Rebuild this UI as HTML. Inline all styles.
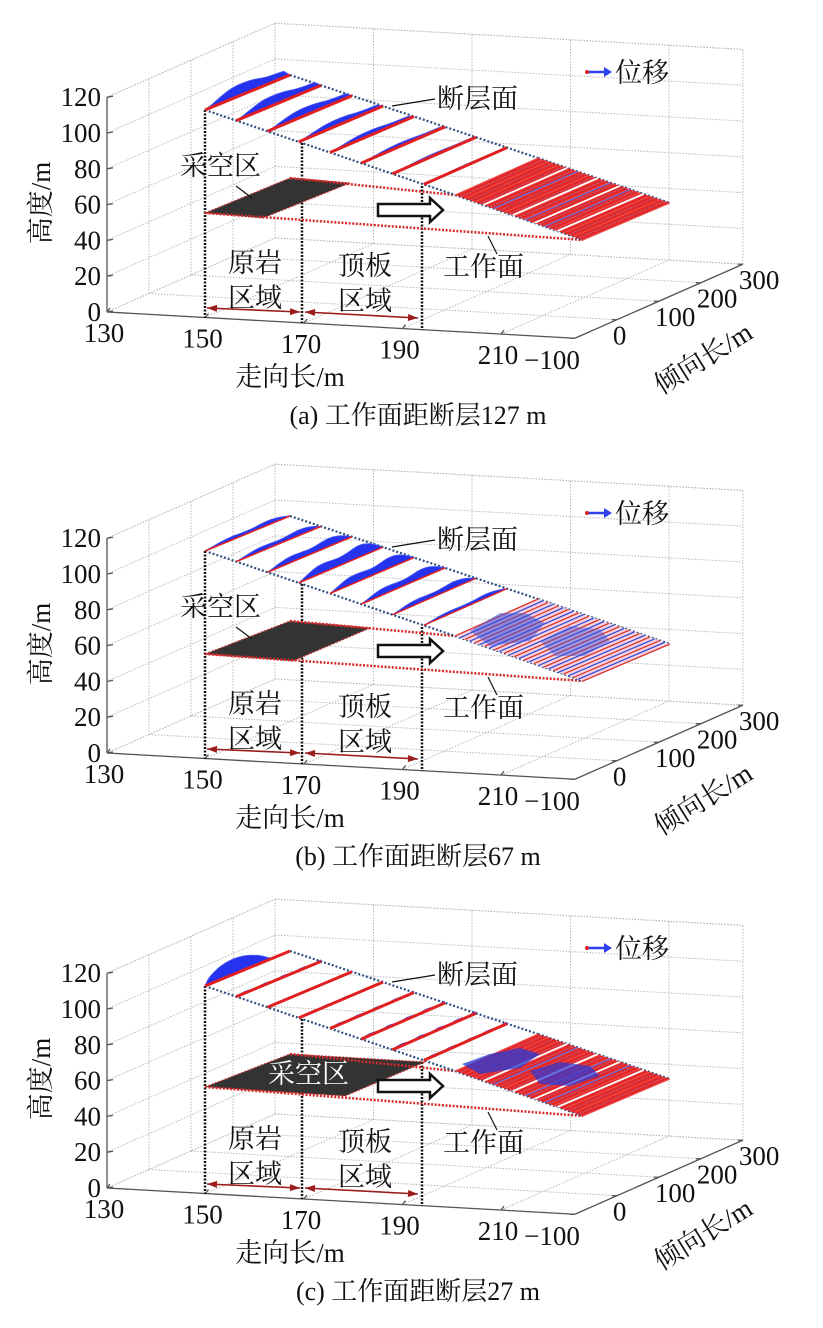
<!DOCTYPE html>
<html><head><meta charset="utf-8"><style>
html,body{margin:0;padding:0;background:#fff;}
svg{display:block;font-family:"Liberation Serif","Noto Serif CJK SC","Noto Sans CJK SC",serif;}
</style></head><body>
<svg id="fig" width="823" height="1328" viewBox="0 0 823 1328" xmlns="http://www.w3.org/2000/svg"></svg>
<script>
const zTicks=[0,20,40,60,80,100,120];
const xTicks=[130,150,170,190,210];
const yTicks=[-100,0,100,200,300];
const lineFracs=[0,0.125,0.25,0.375,0.5,0.625,0.75,0.875];
const dispA=[1.0,0.85,0.7,0.55,0.42,0.3,0.2,0.12];
const dispB=[0.35,0.45,0.65,0.95,0.85,0.7,0.5,0.3];
const dispC=[0.9,0.12,0.06,0.1,0.12,0.14,0.14,0.12];
const captions=["(a)  工作面距断层127 m","(b)  工作面距断层67 m","(c)  工作面距断层27 m"];
const offsets=[0,441,876];
const NS="http://www.w3.org/2000/svg";
const svg=document.getElementById('fig');
function P(x,y,z){return [107+(x-130)*4.925+(y+100)*0.42, 312+(x-130)*0.276-(y+100)*0.185-z*1.79];}
function el(tag,attrs,parent){const e=document.createElementNS(NS,tag);for(const k in attrs)e.setAttribute(k,attrs[k]);parent.appendChild(e);return e;}
function ln(p,q,st,parent){return el('line',Object.assign({x1:p[0],y1:p[1],x2:q[0],y2:q[1]},st),parent);}
function txt(s,x,y,st,parent){const t=el('text',Object.assign({x:x,y:y},st),parent);t.textContent=s;return t;}
function lerp(a,b,t){return [a[0]+(b[0]-a[0])*t,a[1]+(b[1]-a[1])*t];}
const grid={stroke:'#b8b8b8','stroke-width':1,'stroke-dasharray':'1.5,1.5'};
const XMAX=225;

function panel(i){
  const g=el('g',{transform:'translate(0,'+offsets[i]+')'},svg);
  
  
  const gg=el('g',{},g);
  
  
  const xs=xTicks.concat([XMAX]);
  xs.forEach(x=>{ln(P(x,300,0),P(x,300,120),grid,gg);ln(P(x,-100,0),P(x,300,0),grid,gg);});
  yTicks.forEach(y=>{ln(P(130,y,0),P(130,y,120),grid,gg);ln(P(130,y,0),P(XMAX,y,0),grid,gg);});
  zTicks.concat([120]).forEach(z=>{ln(P(130,-100,z),P(130,300,z),grid,gg);ln(P(130,300,z),P(XMAX,300,z),grid,gg);});
  const ax={stroke:'#555','stroke-width':1.3};
  const a1=ln(P(130,-100,0),P(130,-100,120),ax,g);
  
  
  const a2=ln(P(130,-100,0),P(XMAX,-100,0),ax,g);
  
  
  const a3=ln(P(XMAX,-100,0),P(XMAX,300,0),ax,g);
  
  
  const lab={'font-size':27,fill:'#111'};
  zTicks.forEach(z=>{const p=P(130,-100,z);ln(p,[p[0]+6,p[1]-1],ax,g);
    const t=txt(String(z),p[0]-6,p[1]+9,Object.assign({'text-anchor':'end'},lab),g);
    
    });
  xTicks.forEach(x=>{const p=P(x,-100,0);ln(p,[p[0]+3,p[1]-4],ax,g);
    const t=txt(String(x),p[0]-3,p[1]+30,Object.assign({'text-anchor':'middle'},lab),g);
    
    });
  yTicks.forEach(y=>{const p=P(XMAX,y,0);ln(p,[p[0]-5,p[1]],ax,g);
    const s=y<0?'\u2212100':String(y);
    const t=y<0?txt(s,p[0]+5,p[1]+31,Object.assign({'text-anchor':'end'},lab),g):txt(s,p[0]-4,p[1]+25,Object.assign({'text-anchor':'start'},lab),g);
    
    });
  const big={'font-size':27,fill:'#111'};
  let t=txt('走向长/m',290,386,Object.assign({'text-anchor':'middle'},big),g);
  
  
  t=txt('高度/m',0,0,Object.assign({'text-anchor':'middle',transform:'translate(50,203) rotate(-90)'},big),g);
  
  
  t=txt('倾向长/m',0,0,Object.assign({'text-anchor':'middle',transform:'translate(708,366) rotate(-32)'},big),g);
  
  
  t=txt(captions[i],418,424,{'text-anchor':'middle','font-size':26,fill:'#111'},g);
  
  

  const F0=[205,110],F1=[455,195],B0=[290,75],B1=[538,158],R2=[670,203],R3=[583,240];
  const bd={stroke:'#111','stroke-width':2.5,'stroke-dasharray':'2,1.5'};
  [[205,110,318],[302,143,323],[422,186,330]].forEach(v=>{const l=ln([v[0],v[1]],[v[0],v[2]],bd,g);
    
    });
  const gobs=[[[205,213],[290,178],[350,183],[263,218]],[[205,213],[290,180],[370,187],[293,220]],[[205,211],[290,178],[425,186],[345,220]]];
  const gob=el('polygon',{points:gobs[i].map(p=>p.join(',')).join(' '),fill:'#333',stroke:'#c33','stroke-width':1.2,'stroke-dasharray':'2,1.5'},g);
  
  
  const rd={stroke:'#d52a2a','stroke-width':2.5,'stroke-dasharray':'2,1.6'};
  ln(gobs[i][1],F1,rd,g);
  ln(gobs[i][0],R3,rd,g);
  const bl={stroke:'#2f4f80','stroke-width':2.2,'stroke-dasharray':'2,2'};
  ln(F0,F1,bl,g);ln(F1,R3,bl,g);ln(B0,B1,bl,g);ln(B1,R2,bl,g);
  const disp=[dispA,dispB,dispC][i];
  lineFracs.forEach((f,k)=>{
    const F=lerp(F0,F1,f),B=lerp(B0,B1,f);
    const h=disp[k]*(i===0?19:15);
    const pts=[];
    for(let s=0;s<=20;s++){const tt=s/20;const p=lerp(F,B,tt);
      let prof;
      if(i===0)prof=Math.min(1,tt*1.6)*Math.pow(Math.max(0,1-tt),0.25)*(0.75+0.25*Math.sin(tt*6));
      else if(i===1)prof=Math.pow(Math.sin(Math.PI*tt),0.8)*(0.4+0.6*tt)*(1+0.3*Math.sin(tt*9));
      else prof=(k===0)?Math.pow(Math.sin(Math.PI*Math.min(1,tt*1.3)),0.7):Math.abs(Math.sin(tt*14))*0.8;
      pts.push([p[0]-h*prof*0.35,p[1]-h*prof]);}
    const poly=[F].concat(pts).concat([B]);
    const bp=el('polygon',{points:poly.map(p=>p[0].toFixed(1)+','+p[1].toFixed(1)).join(' '),fill:'#2633ee',stroke:'#4a5af5','stroke-width':0.8},g);
    
    
    const rl=ln(F,B,{stroke:'#e02020','stroke-width':i===1?1.5:3},g);
    
    
  });
  const rg=el('g',{},g);
  
  
  el('polygon',{points:[F1,B1,R2,R3].map(p=>p.join(',')).join(' '),fill:i===1?'#f3d6dc':'#e42828'},rg);
  const N=26;
  for(let s=0;s<=N;s++){const f=s/N;const a=lerp(F1,R3,f),b=lerp(B1,R2,f);
    if(i===1){ln(a,b,{stroke:s%2?'#3a48e0':'#e03030','stroke-width':1.3},rg);}
    else{ln(a,b,{stroke:'#f05050','stroke-width':1},rg);if(s%2)ln(a,b,{stroke:'#5a3aa0','stroke-width':0.7,'stroke-dasharray':'1,2'},rg);}
  }
  if(i!==1){[0.22,0.45,0.62,0.8].forEach(f=>{ln(lerp(F1,R3,f),lerp(B1,R2,f),{stroke:'#fff','stroke-width':1.8},rg);});
    [0.3,0.55,0.7].forEach(f=>{ln(lerp(F1,R3,f),lerp(B1,R2,f),{stroke:'#5b6ce8','stroke-width':1.2},rg);});}
  if(i===1){
    el('polygon',{points:'470,190 500,172 525,172 545,182 530,200 490,205',fill:'#4050d8',opacity:0.55},rg);
    el('polygon',{points:'540,200 570,185 600,188 610,200 585,215 555,215',fill:'#4050d8',opacity:0.45},rg);}
  if(i===2){
    el('polygon',{points:'462,188 490,178 520,172 540,178 520,192 480,198',fill:'#2638d8',opacity:0.75},rg);
    el('polygon',{points:'530,195 560,186 590,190 600,200 570,210 540,208',fill:'#2638d8',opacity:0.7},rg);}
  const ha=el('polygon',{points:'378,204 430,204 430,198 443,210 430,222 430,216 378,216',fill:'#fff',stroke:'#111','stroke-width':2.5},g);
  
  
  const dr={stroke:'#9b1c1c','stroke-width':1.6};
  function dbl(p,q){ln(p,q,dr,g);
    [[p,q],[q,p]].forEach(([a,b])=>{const dx=b[0]-a[0],dy=b[1]-a[1],L=Math.hypot(dx,dy),ux=dx/L,uy=dy/L;
      el('polygon',{points:[a[0]+','+a[1],(a[0]+ux*10-uy*3.5)+','+(a[1]+uy*10+ux*3.5),(a[0]+ux*10+uy*3.5)+','+(a[1]+uy*10-ux*3.5)].join(' '),fill:'#9b1c1c'},g);});}
  dbl([207,308],[300,312]);dbl([305,312],[418,318]);
  const an={'font-size':27,fill:'#111','font-family':'"Noto Serif CJK SC","Noto Sans CJK SC",serif'};
  t=txt('断层面',437,108,an,g);
  ln([392,106],[435,99],{stroke:'#111','stroke-width':1.2},g);
  t=txt('工作面',443,276,an,g);
  ln([488,236],[497,254],{stroke:'#111','stroke-width':1.2},g);
  if(i<2){t=txt('采空区',180,175,an,g);ln([236,186],[252,198],{stroke:'#111','stroke-width':1.2},g);}
  else{t=txt('采空区',268,207,Object.assign({},an,{fill:'#fff'}),g);}
  
  t=txt('原岩',228,272,an,g);
  txt('区域',228,307,an,g);
  t=txt('顶板',338,275,an,g);
  txt('区域',338,310,an,g);
  const lg=el('g',{},g);
  
  
  ln([587,72],[606,72],{stroke:'#3040ee','stroke-width':2.5},lg);
  el('polygon',{points:'604,67 612,72 604,77',fill:'#3040ee'},lg);
  el('circle',{cx:587,cy:72,r:2,fill:'#e02020'},lg);
  txt('位移',615,82,an,lg);
}
[0,1,2].forEach(panel);
</script>
</body></html>
